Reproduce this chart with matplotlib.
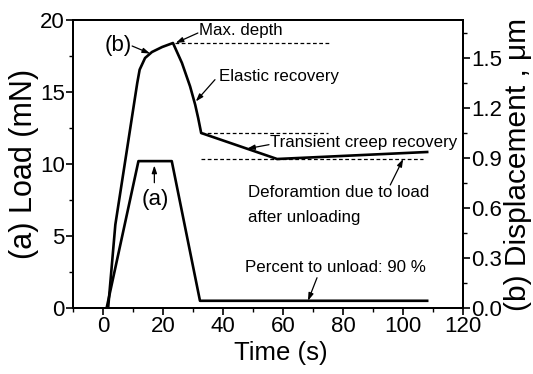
import numpy as np
import matplotlib
matplotlib.use("Agg")
import matplotlib.pyplot as plt
from matplotlib.ticker import MultipleLocator

plt.rcParams["font.family"] = ["Liberation Sans", "DejaVu Sans"]

# (a) applied load profile
load_t = [1.2, 11.8, 22.9, 32.3, 108.0]
load_mn = [0.0, 10.2, 10.2, 0.5, 0.5]

# (b) displacement response
disp_t = [1.7, 4.1, 7.8, 11.4, 12.2, 14.0, 16.3, 19.7, 23.3,
          26.3, 29.0, 30.7, 31.7, 32.7, 58.0, 108.0]
disp_um = [0.0, 0.50, 0.93, 1.35, 1.43, 1.50, 1.536, 1.566, 1.59,
           1.47, 1.33, 1.22, 1.14, 1.05, 0.894, 0.936]

x_ticks = [0, 20, 40, 60, 80, 100, 120]
load_ticks = [0, 5, 10, 15, 20]
disp_ticks = [0.0, 0.3, 0.6, 0.9, 1.2, 1.5]

fig = plt.figure(figsize=(5.33, 3.74), dpi=100)
ax = fig.add_axes([0.137, 0.1765, 0.732, 0.77])
ax2 = ax.twinx()

lw = 1.9
ax.plot(load_t, load_mn, color="black", lw=lw)
ax2.plot(disp_t, disp_um, color="black", lw=lw)

ax.set_xlim(-10, 120)
ax.set_ylim(0, 20)
ax2.set_ylim(0, 1.728)

ax.set_xticks(x_ticks)
ax.set_yticks(load_ticks)
ax2.set_yticks(disp_ticks)
ax2.set_yticklabels([f"{v:.1f}" for v in disp_ticks])
ax.xaxis.set_minor_locator(MultipleLocator(10))
ax.yaxis.set_minor_locator(MultipleLocator(2.5))
ax2.yaxis.set_minor_locator(MultipleLocator(0.15))

for a in (ax, ax2):
    a.tick_params(which="major", direction="out", length=5, width=1.2, labelsize=16, pad=1)
    a.tick_params(which="minor", direction="out", length=3, width=1.0)
    for s in a.spines.values():
        s.set_linewidth(1.4)
ax.tick_params(top=False, which="both")

ax.set_xlabel("Time (s)", fontsize=18.5)
ax.xaxis.set_label_coords((281 - 73) / 390, -0.115)
ax.set_ylabel("(a) Load (mN)", fontsize=22)
ax.yaxis.set_label_coords(-0.088, 0.5)
ax2.set_ylabel("(b) Displacement , \u03bcm", fontsize=21.5)
ax2.yaxis.set_label_coords(1.105, 0.5)

# reference levels on the displacement curve
peak = max(disp_um)
dash = dict(color="black", lw=0.9, ls=(0, (3, 2)))
ax2.plot([24.0, 75.7], [peak, peak], **dash)
ax2.plot([32.7, 75.0], [disp_um[13], disp_um[13]], **dash)
ax2.plot([32.7, 106.7], [disp_um[14], disp_um[14]], **dash)

arrow = dict(arrowstyle="-|>,head_length=0.45,head_width=0.15", color="black", lw=0.9,
             shrinkA=0, shrinkB=0)
fs = 12.2

ax2.text(5.0, 1.578, "(b)", fontsize=16, ha="center", va="center")
ax2.annotate("", xy=(15.7, np.interp(15.7, disp_t, disp_um)), xytext=(9.7, 1.572),
             arrowprops=arrow)
ax2.text(32.0, 1.668, "Max. depth", fontsize=fs, ha="left", va="center")
ax2.annotate("", xy=(24.2, peak), xytext=(31.6, 1.65), arrowprops=arrow)
ax2.text(38.5, 1.392, "Elastic recovery", fontsize=fs, ha="left", va="center")
ax2.annotate("", xy=(30.9, np.interp(30.4, disp_t, disp_um)), xytext=(37.3, 1.37),
             arrowprops=arrow)
ax2.text(55.5, 0.995, "Transient creep recovery", fontsize=fs, ha="left", va="center")
ax2.annotate("", xy=(48.0, np.interp(48.0, disp_t, disp_um)), xytext=(55.3, 0.98),
             arrowprops=arrow)
ax2.annotate("", xy=(100.0, disp_um[14]), xytext=(95.7, 0.738), arrowprops=arrow)
ax.text(48.3, 8.0, "Deforamtion due to load", fontsize=fs, ha="left", va="center")
ax.text(48.3, 6.25, "after unloading", fontsize=fs, ha="left", va="center")
ax.text(47.3, 2.8, "Percent to unload: 90 %", fontsize=fs, ha="left", va="center")
ax.annotate("", xy=(68.3, load_mn[-1]), xytext=(71.3, 2.1), arrowprops=arrow)
ax.text(17.3, 7.55, "(a)", fontsize=16, ha="center", va="center")
ax.annotate("", xy=(17.1, 9.9), xytext=(17.1, 8.7), arrowprops=arrow)

fig.savefig("out.png", dpi=100)
